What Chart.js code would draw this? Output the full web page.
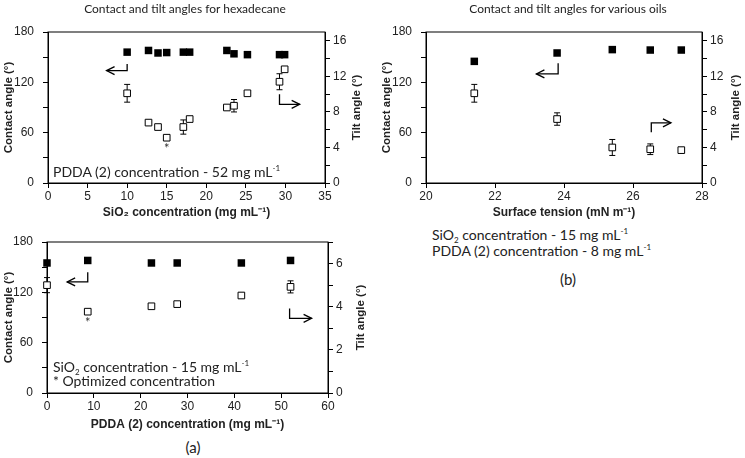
<!DOCTYPE html>
<html>
<head>
<meta charset="utf-8">
<script src="https://cdn.jsdelivr.net/npm/chart.js@4.4.1/dist/chart.umd.min.js"></script>
<style>
  body { margin: 0; width: 745px; height: 458px; position: relative; background: #fff; overflow: hidden; font-family: Lato, "Open Sans", sans-serif; color: #222; }
  canvas { position: absolute; }
  .txt { position: absolute; white-space: nowrap; font-size: 14px; line-height: 15px; }
  .ttl { position: absolute; white-space: nowrap; font-size: 12px; line-height: 14px; transform: translateX(-50%); }
  sub { font-size: 8px; vertical-align: -3px; line-height: 0; }
  sup { font-size: 8px; vertical-align: 6px; line-height: 0; }
</style>
</head>
<body>
<canvas id="hexCanvas" width="366" height="225" style="left:0;top:0"></canvas>
<canvas id="oilCanvas" width="367" height="225" style="left:378px;top:0"></canvas>
<canvas id="pddaCanvas" width="366" height="210" style="left:0;top:225px"></canvas>

<div class="ttl" style="left:185px;top:2px">Contact and tilt angles for hexadecane</div>
<div class="ttl" style="left:568px;top:2px">Contact and tilt angles for various oils</div>
<div class="txt" style="left:53px;top:164px">PDDA (2) concentration - 52 mg mL<sup>-1</sup></div>
<div class="txt" style="left:432px;top:227px;line-height:16px">SiO<sub>2</sub> concentration - 15 mg mL<sup>-1</sup><br>PDDA (2) concentration - 8 mg mL<sup>-1</sup></div>
<div class="txt" style="left:53px;top:360px;line-height:14px">SiO<sub>2</sub> concentration - 15 mg mL<sup>-1</sup><br>* Optimized concentration</div>
<div class="ttl" style="left:193px;top:438px;font-size:15px;line-height:18px">(a)</div>
<div class="ttl" style="left:568px;top:270px;font-size:15px;line-height:18px">(b)</div>

<script>
// hexadecane, varying SiO2 concentration
const sio2Conc = [10, 12.7, 13.9, 15, 17.1, 17.9, 22.6, 23.5, 25.2, 29.25, 29.9];
const sio2Contact = [156, 158, 155, 155.5, 156, 156, 158, 154, 153, 153, 153];
const sio2Tilt = [10.1, 6.8, 6.3, 5.1, 6.3, 7.2, 8.5, 8.7, 10.1, 11.4, 12.8];
const sio2TiltErr = [1.0, 0, 0, 0, 0.8, 0, 0, 0.7, 0, 0.9, 0];

// various oils
const surfTension = [21.4, 23.8, 25.4, 26.5, 27.4];
const oilContact = [145, 155, 159, 158.5, 158.5];
const oilTilt = [10.1, 7.2, 4.0, 3.8, 3.7];
const oilTiltErr = [1.0, 0.7, 0.9, 0.6, 0];

// varying PDDA concentration
const pddaConc = [0, 8.7, 22.3, 27.8, 41.5, 52];
const pddaContact = [155, 158, 155, 155, 155, 158];
const pddaTilt = [5.0, 3.77, 4.02, 4.12, 4.52, 4.92];
const pddaTiltErr = [0.35, 0, 0, 0.1, 0.1, 0.28];

// tick labels
const contactTicks = [0, 30, 60, 90, 120, 150, 180];
const tiltTicks16 = [0, 2, 4, 6, 8, 10, 12, 14, 16];
const tiltTicks7 = [0, 1, 2, 3, 4, 5, 6, 7];
const sio2Ticks = [0, 5, 10, 15, 20, 25, 30, 35];
const tensionTicks = [20, 22, 24, 26, 28];
const pddaTicks = [0, 10, 20, 30, 40, 50, 60];

const tickFont = { family: 'Liberation Sans', size: 12 };
const titleFont = { family: 'Liberation Sans', size: 11.5, weight: 'bold' };

function axisLine() {
  return { display: true, drawOnChartArea: false, drawTicks: true, tickLength: 5, color: '#000', lineWidth: 1 };
}

function makePanel(id, p) {
  const panelPlugin = {
    id: 'panel_' + id,
    beforeDatasetsDraw(chart) {
      const { ctx, chartArea: a, scales } = chart;
      ctx.save();
      ctx.strokeStyle = '#000';
      ctx.lineWidth = 1;
      ctx.strokeRect(a.left, a.top, a.right - a.left, a.bottom - a.top);
      // error bars on the tilt series
      p.x.forEach((xv, i) => {
        const e = p.err[i];
        if (!e) return;
        const px = scales.x.getPixelForValue(xv);
        const y1 = scales.y2.getPixelForValue(p.tilt[i] - e);
        const y2 = scales.y2.getPixelForValue(p.tilt[i] + e);
        ctx.beginPath();
        ctx.moveTo(px, y1); ctx.lineTo(px, y2);
        ctx.moveTo(px - 3, y1); ctx.lineTo(px + 3, y1);
        ctx.moveTo(px - 3, y2); ctx.lineTo(px + 3, y2);
        ctx.stroke();
      });
      ctx.restore();
    },
    afterDatasetsDraw(chart) {
      const { ctx, chartArea: a, scales } = chart;
      ctx.save();
      ctx.strokeStyle = '#000';
      ctx.lineWidth = 1.3;
      p.arrows.forEach(ar => {
        const pts = ar.pts.map(q => [scales.x.getPixelForValue(q[0]), scales[ar.axis].getPixelForValue(q[1])]);
        ctx.beginPath();
        ctx.moveTo(pts[0][0], pts[0][1]);
        pts.slice(1).forEach(q => ctx.lineTo(q[0], q[1]));
        ctx.stroke();
        const [tx, ty] = pts[pts.length - 1];
        const [fx, fy] = pts[pts.length - 2];
        const ang = Math.atan2(ty - fy, tx - fx);
        ctx.beginPath();
        ctx.moveTo(tx - 8 * Math.cos(ang) - 4 * Math.sin(ang), ty - 8 * Math.sin(ang) + 4 * Math.cos(ang));
        ctx.lineTo(tx, ty);
        ctx.lineTo(tx - 8 * Math.cos(ang) + 4 * Math.sin(ang), ty - 8 * Math.sin(ang) - 4 * Math.cos(ang));
        ctx.stroke();
      });
      if (p.star != null) {
        ctx.fillStyle = '#333';
        ctx.font = '13px Lato';
        ctx.textAlign = 'center';
        ctx.textBaseline = 'middle';
        ctx.fillText('*', scales.x.getPixelForValue(p.x[p.star]), scales.y2.getPixelForValue(p.tilt[p.star]) + 11);
      }
      // right axis title, reading bottom to top
      ctx.fillStyle = '#222';
      ctx.font = 'bold 11.5px "Liberation Sans"';
      ctx.textAlign = 'center';
      ctx.textBaseline = 'middle';
      ctx.translate(a.right + p.rightTitle, (a.top + a.bottom) / 2);
      ctx.rotate(-Math.PI / 2);
      ctx.fillText('Tilt angle (°)', 0, 0);
      ctx.restore();
    }
  };

  new Chart(document.getElementById(id), {
    type: 'scatter',
    data: {
      datasets: [
        {
          data: p.x.map((v, i) => ({ x: v, y: p.contact[i] })),
          yAxisID: 'y',
          pointStyle: 'rect', pointRadius: 5.3, pointHoverRadius: 5.3,
          backgroundColor: '#000', borderColor: '#000', borderWidth: 0,
          clip: false
        },
        {
          data: p.x.map((v, i) => ({ x: v, y: p.tilt[i] })),
          yAxisID: 'y2',
          pointStyle: 'rect', pointRadius: 4.7, pointHoverRadius: 4.7,
          backgroundColor: '#fff', borderColor: '#000', borderWidth: 1,
          clip: false
        }
      ]
    },
    options: {
      responsive: false,
      animation: false,
      events: [],
      layout: { padding: { top: p.T, left: 0, right: 0, bottom: 0 } },
      plugins: { legend: { display: false }, tooltip: { enabled: false } },
      scales: {
        x: {
          type: 'linear', position: 'bottom', min: p.xMin, max: p.xMax,
          afterBuildTicks: s => { s.ticks = p.xTicks.map(v => ({ value: v })); },
          afterFit: s => { s.height = p.B; },
          grid: axisLine(),
          border: { display: true, color: '#000', width: 1 },
          ticks: { font: tickFont, color: '#222', padding: 1, maxRotation: 0, autoSkip: false },
          title: { display: true, text: p.xTitle, font: { family: 'Liberation Sans', size: 12, weight: 'bold' }, color: '#222', padding: { top: 0, bottom: p.xTitlePad } }
        },
        y: {
          type: 'linear', position: 'left', min: 0, max: 180,
          afterBuildTicks: s => { s.ticks = contactTicks.map(v => ({ value: v })); },
          afterFit: s => { s.width = p.L; },
          grid: axisLine(),
          border: { display: true, color: '#000', width: 1 },
          ticks: { font: tickFont, color: '#222', padding: 9, autoSkip: false, callback: v => (v % 60 === 0 ? v : '') },
          title: { display: true, text: 'Contact angle (°)', font: titleFont, color: '#222', padding: { top: 2, bottom: 0 } }
        },
        y2: {
          type: 'linear', position: 'right', min: 0, max: p.y2Max,
          afterBuildTicks: s => { s.ticks = p.y2Ticks.map(v => ({ value: v })); },
          afterFit: s => { s.width = p.R; },
          grid: axisLine(),
          border: { display: true, color: '#000', width: 1 },
          ticks: { font: tickFont, color: '#222', padding: 3, autoSkip: false, callback: v => (v % p.y2Label === 0 ? v : '') }
        }
      }
    },
    plugins: [panelPlugin]
  });
}

makePanel('hexCanvas', {
  x: sio2Conc, contact: sio2Contact, tilt: sio2Tilt, err: sio2TiltErr,
  xMin: 0, xMax: 35, xTicks: sio2Ticks, xTitle: 'SiO₂ concentration (mg mL⁻¹)', xTitlePad: 5.5,
  y2Max: 17, y2Ticks: tiltTicks16, y2Label: 4,
  L: 48, R: 41, T: 32, B: 42, rightTitle: 32, star: 3,
  arrows: [
    { axis: 'y', pts: [[10, 142], [10, 134], [7.4, 134]] },
    { axis: 'y2', pts: [[29.25, 10.0], [29.25, 8.86], [31.8, 8.86]] }
  ]
});

makePanel('oilCanvas', {
  x: surfTension, contact: oilContact, tilt: oilTilt, err: oilTiltErr,
  xMin: 20, xMax: 28, xTicks: tensionTicks, xTitle: 'Surface tension (mN m⁻¹)', xTitlePad: 5.5,
  y2Max: 17, y2Ticks: tiltTicks16, y2Label: 4,
  L: 48, R: 43, T: 32, B: 42, rightTitle: 34, star: null,
  arrows: [
    { axis: 'y', pts: [[23.83, 142.7], [23.83, 130], [23.2, 130]] },
    { axis: 'y2', pts: [[26.53, 5.7], [26.53, 6.77], [27.1, 6.77]] }
  ]
});

makePanel('pddaCanvas', {
  x: pddaConc, contact: pddaContact, tilt: pddaTilt, err: pddaTiltErr,
  xMin: 0, xMax: 60, xTicks: pddaTicks, xTitle: 'PDDA (2) concentration (mg mL⁻¹)', xTitlePad: 3.2,
  y2Max: 7, y2Ticks: tiltTicks7, y2Label: 2,
  L: 47, R: 38, T: 17, B: 42, rightTitle: 33, star: 1,
  arrows: [
    { axis: 'y', pts: [[8.7, 144], [8.7, 132.4], [4.3, 132.4]] },
    { axis: 'y2', pts: [[51.8, 3.92], [51.8, 3.46], [56.5, 3.46]] }
  ]
});
</script>
</body>
</html>
